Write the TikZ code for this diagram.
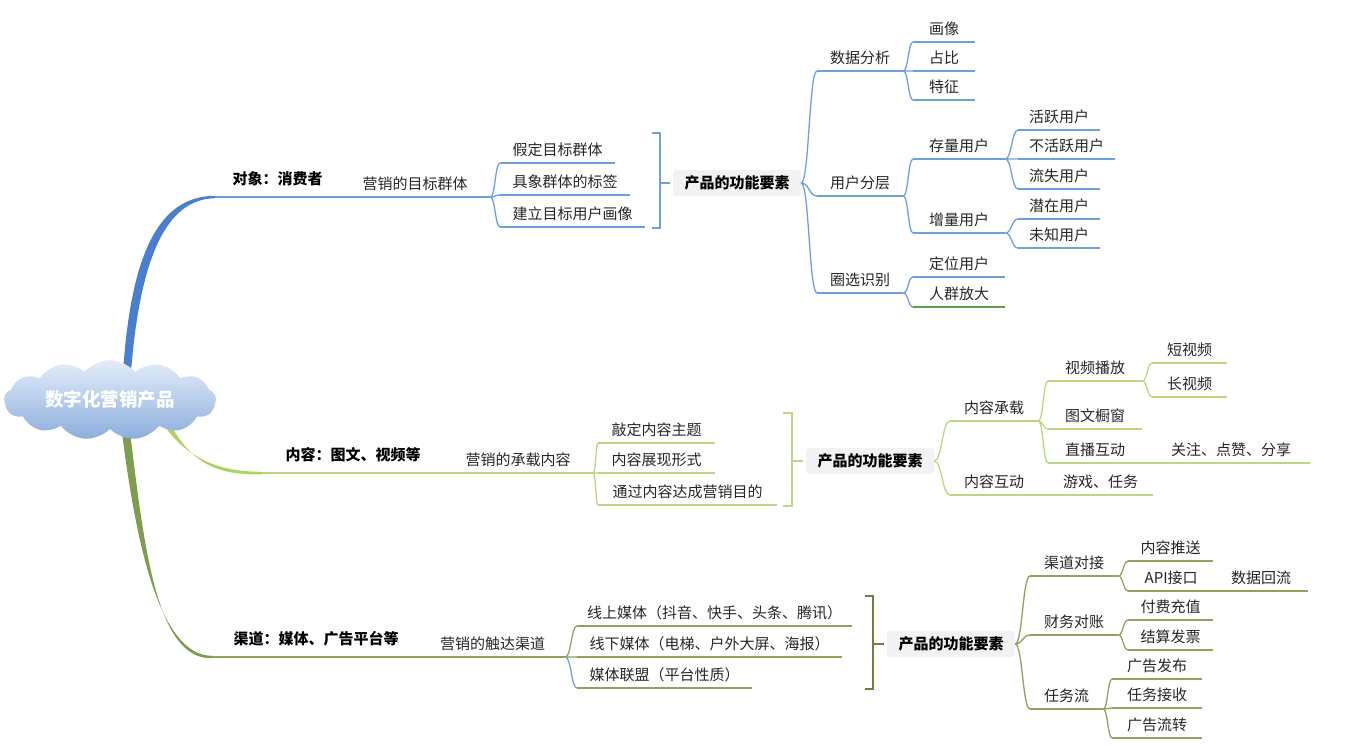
\documentclass[tikz,border=0pt]{standalone}
\usepackage{fontspec}
\setmainfont{Noto Sans CJK SC}
\usetikzlibrary{shapes.symbols, calc, positioning}

\definecolor{bluethick}{HTML}{4A7FCF}
\definecolor{blueline}{HTML}{6F9FDC}
\definecolor{greenthick}{HTML}{B0D364}
\definecolor{greenline}{HTML}{BCD784}
\definecolor{olivethick}{HTML}{7F9D4F}
\definecolor{oliveline}{HTML}{8EA35E}
\definecolor{olivebrk}{HTML}{6F7F3F}
\definecolor{oddgreen}{HTML}{5E9E45}
\definecolor{boxgray}{HTML}{F2F2F2}
\definecolor{txt}{HTML}{262626}
\definecolor{cloudtop}{HTML}{E3EDF9}
\definecolor{cloudbot}{HTML}{8CAEDD}

\newcommand\mfont{\fontsize{15}{18}\selectfont}

\pgfdeclarelayer{bg}
\pgfsetlayers{bg,main}

\tikzset{
  topic/.style={inner sep=0pt, anchor=south west, minimum height=26pt, text=txt, font=\mfont},
  lv1/.style={minimum height=36pt, text=black, font=\mfont\bfseries},
  ul/.style={append after command={(\tikzlastnode.south west) edge[#1] (\tikzlastnode.south east)}},
  bline/.style={draw=blueline, line width=1.3pt},
  gline/.style={draw=greenline, line width=1.3pt},
  oline/.style={draw=oliveline, line width=1.3pt},
  odline/.style={draw=oddgreen, line width=1.3pt},
  bt/.style={topic, minimum width=#1pt, ul=bline},
  gt/.style={topic, minimum width=#1pt, ul=gline},
  ot/.style={topic, minimum width=#1pt, ul=oline},
  featbox/.style={fill=boxgray, rounded corners=3pt, inner sep=0pt, minimum width=128pt,
    minimum height=26pt, font=\mfont\bfseries, text=black},
  rootcloud/.style={cloud, cloud puffs=13, cloud puff arc=100, aspect=3, minimum width=212pt,
    minimum height=78pt, inner sep=0pt, top color=cloudtop, bottom color=cloudbot,
    font=\fontsize{18.5}{22}\selectfont\bfseries, text=white},
  brk/.style={line width=1.6pt},
  fan/.style={to path={.. controls ($(\tikztostart)!0.5!(\tikztostart -| \tikztotarget)$)
    and ($(\tikztotarget)!0.5!(\tikztotarget -| \tikztostart)$) .. (\tikztotarget)}},
}

\begin{document}
\begin{tikzpicture}[x=1pt, y=-1pt]

    \useasboundingbox (0,0) rectangle (1346,748);

    % Root cloud
    \node[rootcloud] (root) at (110,400) {数字化营销产品};

    % ---------- Branch 1: target group ----------
    \node[bt=125, lv1] (obj) at (215,197) {对象：消费者};
    \node[bt=150] (grp) at (340,197) {营销的目标群体};
    \node[bt=115] (g1) at (500,163) {假定目标群体};
    \node[bt=130] (g2) at (500,195) {具象群体的标签};
    \node[bt=145] (g3) at (500,227) {建立目标用户画像};

    % Bracket and feature box
    \draw[brk, draw=blueline] (652,133) -- (660,133) -- (660,228) -- (652,228);
    \coordinate (k1) at (660,183);
    \node[featbox] (pf1) at (737,183) {产品的功能要素};
    \draw[brk, draw=blueline, shorten >=3pt] (k1) -- (pf1.west);

    \node[bt=86] (d1) at (817,71) {数据分析};
    \node[bt=86] (d2) at (817,196) {用户分层};
    \node[bt=86] (d3) at (817,293) {圈选识别};

    \node[bt=62] (d11) at (913,42) {画像};
    \node[bt=62] (d12) at (913,71) {占比};
    \node[bt=62] (d13) at (913,100) {特征};

    \node[bt=92] (d21) at (913,159) {存量用户};
    \node[bt=92] (d22) at (913,233) {增量用户};
    \node[bt=82] (d211) at (1018,130) {活跃用户};
    \node[bt=97] (d212) at (1018,159) {不活跃用户};
    \node[bt=82] (d213) at (1018,189) {流失用户};
    \node[bt=82] (d221) at (1018,219) {潜在用户};
    \node[bt=82] (d222) at (1018,248) {未知用户};

    \node[bt=92] (d31) at (913,277) {定位用户};
    \node[topic, minimum width=92pt, ul=odline] (d32) at (913,307) {人群放大};

    % connectors
    \draw[bline] (grp.south east) to[fan] (g1.south west)
                 (grp.south east) to[fan] (g2.south west)
                 (grp.south east) to[fan] (g3.south west);
    \draw[bline] (pf1.east) to[fan] (d1.south west)
                 (pf1.east) to[fan] (d2.south west)
                 (pf1.east) to[fan] (d3.south west);
    \draw[bline] (d1.south east) to[fan] (d11.south west)
                 (d1.south east) to[fan] (d12.south west)
                 (d1.south east) to[fan] (d13.south west);
    \draw[bline] (d2.south east) to[fan] (d21.south west)
                 (d2.south east) to[fan] (d22.south west);
    \draw[bline] (d21.south east) to[fan] (d211.south west)
                 (d21.south east) to[fan] (d212.south west)
                 (d21.south east) to[fan] (d213.south west);
    \draw[bline] (d22.south east) to[fan] (d221.south west)
                 (d22.south east) to[fan] (d222.south west);
    \draw[bline] (d3.south east) to[fan] (d31.south west)
                 (d3.south east) to[fan] (d32.south west);

    % ---------- Branch 2: content ----------
    \node[gt=180, lv1] (cnt) at (263,473) {内容：图文、视频等};
    \node[gt=150] (car) at (443,473) {营销的承载内容};
    \node[gt=117] (c1) at (598,443) {敲定内容主题};
    \node[gt=117] (c2) at (598,473) {内容展现形式};
    \node[gt=179] (c3) at (598,505) {通过内容达成营销目的};

    \draw[brk, draw=greenline] (783,413) -- (792,413) -- (792,506) -- (783,506);
    \coordinate (k2) at (792,461);
    \node[featbox] (pf2) at (870,461) {产品的功能要素};
    \draw[brk, draw=greenline, shorten >=3pt] (k2) -- (pf2.west);

    \node[gt=88] (e1) at (950,421) {内容承载};
    \node[gt=88] (e2) at (950,495) {内容互动};
    \node[gt=94] (e11) at (1048,381) {视频播放};
    \node[gt=94] (e12) at (1048,429) {图文橱窗};
    \node[gt=94] (e13) at (1048,463) {直播互动};
    \node[gt=75] (e111) at (1152,363) {短视频};
    \node[gt=75] (e112) at (1152,397) {长视频};
    \node[gt=158] (e131) at (1152,463) {关注、点赞、分享};
    \node[gt=105] (e21) at (1048,495) {游戏、任务};

    \draw[gline] (car.south east) to[fan] (c1.south west)
                 (car.south east) to[fan] (c2.south west)
                 (car.south east) to[fan] (c3.south west);
    \draw[gline] (pf2.east) to[fan] (e1.south west)
                 (pf2.east) to[fan] (e2.south west);
    \draw[gline] (e1.south east) to[fan] (e11.south west)
                 (e1.south east) to[fan] (e12.south west)
                 (e1.south east) to[fan] (e13.south west);
    \draw[gline] (e11.south east) to[fan] (e111.south west)
                 (e11.south east) to[fan] (e112.south west);
    \draw[gline] (e13.south east) -- (e131.south west);
    \draw[gline] (e2.south east) -- (e21.south west);

    % ---------- Branch 3: channels ----------
    \node[ot=208, lv1] (chn) at (212,657) {渠道：媒体、广告平台等};
    \node[ot=145] (rch) at (420,657) {营销的触达渠道};
    \node[ot=275] (f1) at (577,626) {线上媒体（抖音、快手、头条、腾讯）};
    \node[ot=265] (f2) at (577,657) {线下媒体（电梯、户外大屏、海报）};
    \node[ot=175] (f3) at (577,688) {媒体联盟（平台性质）};

    \draw[brk, draw=olivebrk] (865,596) -- (873,596) -- (873,689) -- (865,689);
    \coordinate (k3) at (873,644);
    \node[featbox] (pf3) at (951,644) {产品的功能要素};
    \draw[brk, draw=olivebrk, shorten >=3pt] (k3) -- (pf3.west);

    \node[ot=88] (h1) at (1030,576) {渠道对接};
    \node[ot=88] (h2) at (1030,635) {财务对账};
    \node[ot=73] (h3) at (1030,709) {任务流};
    \node[ot=85] (h11) at (1128,561) {内容推送};
    \node[ot=86] (h12) at (1128,591) {API接口};
    \node[ot=94] (h121) at (1214,591) {数据回流};
    \node[ot=85] (h21) at (1128,620) {付费充值};
    \node[ot=85] (h22) at (1128,650) {结算发票};
    \node[ot=90] (h31) at (1112,679) {广告发布};
    \node[ot=90] (h32) at (1112,708) {任务接收};
    \node[ot=90] (h33) at (1112,738) {广告流转};

    \draw[oline] (rch.south east) to[fan] (f1.south west)
                 (rch.south east) to[fan] (f2.south west);
    \draw[bline] (rch.south east) to[fan] (f3.south west);
    \draw[oline] (pf3.east) to[fan] (h1.south west)
                 (pf3.east) to[fan] (h2.south west)
                 (pf3.east) to[fan] (h3.south west);
    \draw[oline] (h1.south east) to[fan] (h11.south west)
                 (h1.south east) to[fan] (h12.south west);
    \draw[oline] (h12.south east) -- (h121.south west);
    \draw[oline] (h2.south east) to[fan] (h21.south west)
                 (h2.south east) to[fan] (h22.south west);
    \draw[oline] (h3.south east) to[fan] (h31.south west)
                 (h3.south east) to[fan] (h32.south west)
                 (h3.south east) to[fan] (h33.south west);

    % ---------- Thick branches under the cloud ----------
    \coordinate (r1) at (127,372);
    \coordinate (r2) at (163,418);
    \coordinate (r3) at (126,432);
    \begin{pgfonlayer}{bg}
        \fill[bluethick] ($(r1)+(-4,0)$) .. controls (131,255) and (158,196) .. ($(obj.south west)+(0,-1.2)$)
            -- ($(obj.south west)+(0,1.2)$) .. controls (166,199) and (140,258) .. ($(r1)+(4,0)$) -- cycle;
        \fill[greenthick] ($(r2)+(-3,2)$) .. controls (185,457) and (215,471.8) .. ($(cnt.south west)+(0,-1.2)$)
            -- ($(cnt.south west)+(0,1.2)$) .. controls (212,476) and (188,460) .. ($(r2)+(3,-2)$) -- cycle;
        \fill[olivethick] ($(r3)+(-4,0)$) .. controls (136,545) and (160,655.8) .. ($(chn.south west)+(0,-1.2)$)
            -- ($(chn.south west)+(0,1.2)$) .. controls (156,660) and (144,545) .. ($(r3)+(4,0)$) -- cycle;
    \end{pgfonlayer}

\end{tikzpicture}
\end{document}
